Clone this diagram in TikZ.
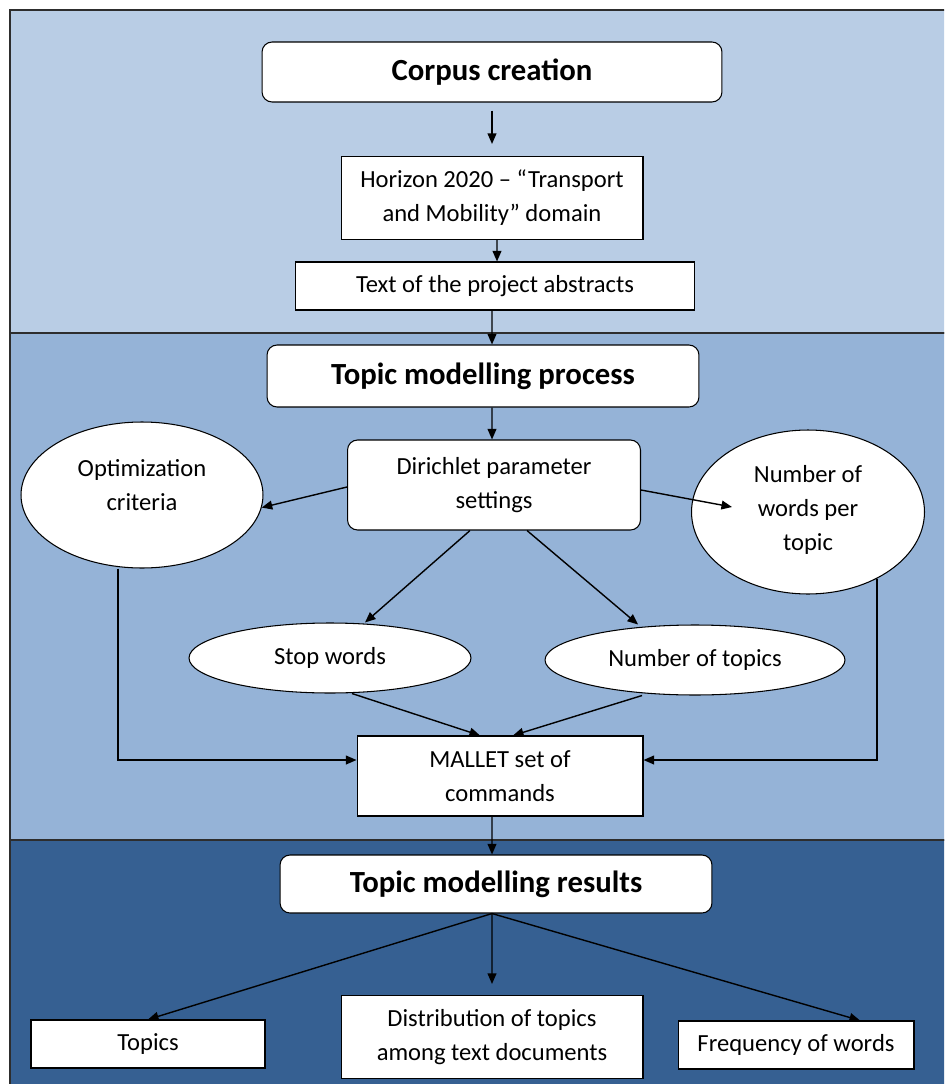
\documentclass[tikz,border=0pt]{standalone}
\usepackage{fontspec}
\setmainfont{Carlito}
\usetikzlibrary{arrows.meta,shapes.geometric,calc}
\definecolor{TopClr}{RGB}{185,205,229}
\definecolor{MidClr}{RGB}{149,179,215}
\definecolor{LowClr}{RGB}{54,96,146}
\definecolor{EdgeClr}{RGB}{45,45,45}

\begin{document}
\begin{tikzpicture}[x=0.02cm,y=-0.02cm,
  box/.style={draw=black,fill=white,line width=0.6pt,align=center,inner sep=0pt,
    font=\fontsize{14}{19.3}\selectfont},
  rbox/.style={box,rounded corners=0.2cm},
  title/.style={rbox,font=\fontsize{17.5}{21}\selectfont\bfseries},
  oval/.style={box,ellipse},
  arr/.style={-{Triangle[length=6pt,width=5pt]},line width=0.8pt}]
\useasboundingbox (0,0) rectangle (944,1084);
\clip (0,0) rectangle (944,1084);

% Background panels
\filldraw[fill=TopClr,draw=EdgeClr,line width=0.8pt] (10,10) rectangle (960,333);
\filldraw[fill=MidClr,draw=EdgeClr,line width=0.8pt] (10,333) rectangle (960,840);
\filldraw[fill=LowClr,draw=EdgeClr,line width=0.8pt] (10,840) rectangle (960,1100);

% Corpus creation
\node[title,minimum width=9.2cm,minimum height=1.2cm] (corpus) at (492,72) {Corpus creation};
\node[box,minimum width=6.04cm,minimum height=1.66cm] (horizon) at (492,198)
  {Horizon 2020 -- “Transport\\and Mobility” domain};
\node[box,minimum width=7.98cm,minimum height=0.96cm] (abstracts) at (495,286)
  {Text of the project abstracts};

% Topic modelling process
\node[title,minimum width=8.64cm,minimum height=1.24cm] (process) at (483,376) {Topic modelling process};
\node[rbox,minimum width=5.86cm,minimum height=1.8cm] (dirichlet) at (494,485)
  {Dirichlet parameter\\settings};
\node[oval,minimum width=4.84cm,minimum height=2.92cm] (optim) at (142,495)
  {Optimization\\criteria\\[-8pt]\mbox{}};
\node[oval,minimum width=4.66cm,minimum height=3.28cm] (nwords) at (808,512)
  {\mbox{}\\[-12pt]Number of\\words per\\topic};
\node[oval,minimum width=5.64cm,minimum height=1.4cm] (stop) at (330,658) {Stop words};
\node[oval,minimum width=6cm,minimum height=1.4cm] (ntopics) at (695,660) {Number of topics};
\node[box,minimum width=5.72cm,minimum height=1.6cm] (mallet) at (500,776)
  {MALLET set of\\commands};

% Topic modelling results
\node[title,minimum width=8.64cm,minimum height=1.16cm] (results) at (496,884) {Topic modelling results};
\node[box,minimum width=4.68cm,minimum height=0.96cm] (topics) at (148,1044) {Topics};
\node[box,minimum width=6.04cm,minimum height=1.66cm] (distrib) at (492,1037)
  {Distribution of topics\\among text documents};
\node[box,minimum width=4.72cm,minimum height=0.96cm] (freq) at (796,1045) {Frequency of words};

% Connectors
\draw[arr,shorten <=0.16cm,shorten >=0.24cm] (corpus) -- (corpus |- horizon.north);
\draw[arr] ([xshift=0.1cm]horizon.south) -- ([xshift=0.04cm]abstracts.north);
\draw[arr] ([xshift=-0.06cm]abstracts.south) -- ([xshift=0.18cm]process.north);
\draw[arr] ([xshift=0.18cm]process.south) -- ([xshift=-0.04cm]dirichlet.north);
\draw[arr] ([yshift=-0.04cm]dirichlet.west) -- (optim.-6);
\draw[arr] ([yshift=-0.1cm]dirichlet.east) -- ($(nwords.west)+(41,-5)$);
\draw[arr] ([xshift=-0.48cm]dirichlet.south) -- ([xshift=0.7cm]stop.north);
\draw[arr] ([xshift=0.66cm]dirichlet.south) -- ([xshift=-1.14cm]ntopics.north);
\draw[arr] ([xshift=0.44cm]stop.south) -- ([xshift=-0.4cm]mallet.north);
\draw[arr] ([xshift=-1.06cm]ntopics.south) -- ([xshift=0.26cm]mallet.north);
\draw[arr] ([xshift=-0.48cm]optim.south) |- ([yshift=0.32cm]mallet.west);
\draw[arr] (nwords.-44) |- ([yshift=0.32cm]mallet.east);
\draw[arr] ([xshift=-0.16cm]mallet.south) -- ([xshift=-0.08cm]results.north);
\draw[arr] ([xshift=-0.08cm]results.south) -- (topics.north);
\draw[arr,shorten >=0.22cm] ([xshift=-0.08cm]results.south) -- (distrib.north);
\draw[arr] ([xshift=-0.08cm]results.south) -- ([xshift=1.28cm]freq.north);
\end{tikzpicture}
\end{document}
